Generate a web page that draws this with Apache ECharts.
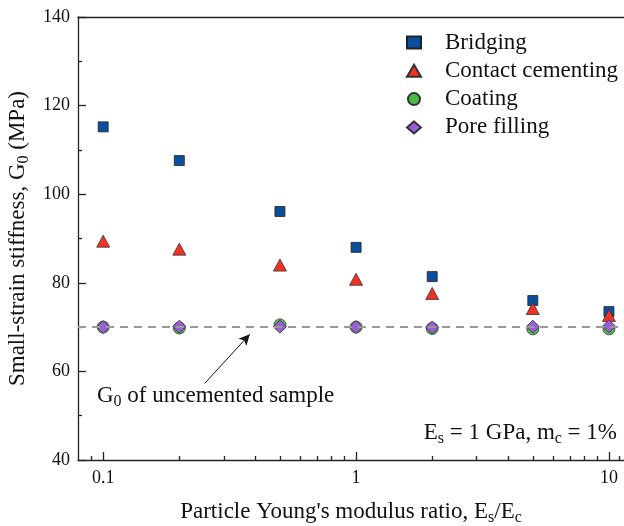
<!DOCTYPE html>
<html>
<head>
<meta charset="utf-8">
<script src="https://cdn.jsdelivr.net/npm/echarts@6/dist/echarts.min.js"></script>
<style>
html,body{margin:0;padding:0;background:#fff;}
#chart{width:624px;height:526px;}
</style>
</head>
<body>
<div id="chart"></div>
<script>
// ---- data ----
var ratios = [0.1, 0.2, 0.5, 1, 2, 5, 10];
var bridging = [115.2, 107.6, 96.1, 88.0, 81.4, 76.0, 73.5];
var contactCementing = [89.4, 87.6, 84.0, 80.8, 77.6, 74.2, 72.6];
var coating = [70.0, 69.8, 70.5, 70.0, 69.7, 69.6, 69.6];
var poreFilling = [70.0, 70.1, 70.1, 70.0, 69.9, 70.1, 70.2];
var uncementedG0 = 70;
var xMajorTicks = [0.1, 1, 10];
var xMinorTicks = [0.09, 0.2, 0.3, 0.4, 0.5, 0.6, 0.7, 0.8, 0.9, 2, 3, 4, 5, 6, 7, 8, 9, 11];
var yTicks = {min: 40, max: 140, interval: 20};
var arrowFrom = [0.252, 57.3];
var arrowTo = [0.38, 68.4];

function pairs(ys) { return ratios.map(function (x, i) { return [x, ys[i]]; }); }

var FONT = '"Liberation Serif", "Times New Roman", serif';
var TXT = '#111';
var subStyle = { fontSize: 16, fontFamily: FONT, color: TXT, verticalAlign: 'bottom', lineHeight: 12 };
var mainRich = { fontSize: 23, fontFamily: FONT, color: TXT, lineHeight: 28 };

var chart = echarts.init(document.getElementById('chart'), null, { renderer: 'canvas' });
var XMIN = 0.0795, XMAX = 11.47;
var axisLineStyle = { color: '#222', width: 1.3 };

var option = {
  animation: false,
  backgroundColor: '#fff',
  grid: { left: 78, right: 0, top: 17, bottom: 66, containLabel: false, outerBoundsMode: 'none' },
  legend: {
    orient: 'vertical',
    left: 406, top: 30.5,
    padding: 0,
    itemWidth: 14, itemHeight: 12,
    itemGap: 4.3,
    symbolKeepAspect: true,
    textStyle: { fontFamily: FONT, fontSize: 23, color: TXT, lineHeight: 24, padding: [0, 0, 0, 19] },
    data: ['Bridging', 'Contact cementing', 'Coating', 'Pore filling']
  },
  xAxis: [
    {
      type: 'log', logBase: 10, min: XMIN, max: XMAX, position: 'bottom',
      axisLine: { show: true, lineStyle: axisLineStyle },
      axisTick: { show: true, inside: true, length: 8, customValues: xMajorTicks, lineStyle: axisLineStyle },
      axisLabel: { customValues: xMajorTicks, fontFamily: FONT, fontSize: 18, color: TXT, margin: 9,
        formatter: function (v) { return String(+(+v).toPrecision(3)); } },
      splitLine: { show: false },
      minorTick: { show: false },
      name: 'Particle Young\'s modulus ratio, {m|E}{s|s}{m|/E}{s|c}',
      nameLocation: 'middle', nameGap: 38,
      nameTextStyle: { rich: { m: mainRich, s: subStyle }, fontFamily: FONT, fontSize: 23, color: TXT }
    },
    {
      type: 'log', logBase: 10, min: XMIN, max: XMAX, position: 'bottom',
      axisLine: { show: false },
      axisTick: { show: true, inside: true, length: 4, customValues: xMinorTicks, lineStyle: axisLineStyle },
      axisLabel: { show: false },
      splitLine: { show: false }
    },
    {
      type: 'log', logBase: 10, min: XMIN, max: XMAX, position: 'top',
      axisLine: { show: true, lineStyle: axisLineStyle },
      axisTick: { show: false }, axisLabel: { show: false }, splitLine: { show: false }
    }
  ],
  yAxis: {
    type: 'value', min: yTicks.min, max: yTicks.max, interval: yTicks.interval,
    axisLine: { show: true, lineStyle: axisLineStyle },
    axisTick: { show: true, inside: true, length: 8, lineStyle: axisLineStyle },
    minorTick: { show: true, splitNumber: 2, length: 4, lineStyle: axisLineStyle },
    axisLabel: { fontFamily: FONT, fontSize: 18, color: TXT, margin: 8 },
    splitLine: { show: false },
    name: '{m|Small-strain stiffness, G}{s|0}{m| (MPa)}',
    nameLocation: 'middle', nameGap: 44,
    nameTextStyle: { rich: { m: mainRich, s: subStyle }, fontFamily: FONT, fontSize: 23, color: TXT }
  },
  series: [
    {
      type: 'line', name: 'ref', data: [], z: 1, silent: true,
      markLine: {
        silent: true, animation: false,
        label: { show: false },
        emphasis: { disabled: true },
        data: [
          [{ xAxis: XMIN, yAxis: uncementedG0, symbol: 'none' }, { xAxis: XMAX, yAxis: uncementedG0, symbol: 'none',
            lineStyle: { type: [8, 6], color: '#9a9a9a', width: 2 } }],
          [{ coord: arrowFrom, symbol: 'none' }, { coord: arrowTo, symbol: 'arrow', symbolSize: [8, 11],
            lineStyle: { type: 'solid', color: '#111', width: 1 } }]
        ],
        lineStyle: { type: [8, 6], color: '#9a9a9a', width: 2 }
      }
    },
    {
      type: 'scatter', name: 'Bridging', data: pairs(bridging), z: 3,
      symbol: 'rect', symbolSize: 10, symbolKeepAspect: true,
      itemStyle: { color: '#0b4e9e', borderColor: '#222', borderWidth: 0.8, opacity: 1 }
    },
    {
      type: 'scatter', name: 'Contact cementing', data: pairs(contactCementing), z: 3,
      symbol: 'triangle', symbolSize: [13, 12], symbolKeepAspect: true,
      itemStyle: { color: '#ef3224', borderColor: '#333', borderWidth: 0.8, opacity: 1 }
    },
    {
      type: 'scatter', name: 'Coating', data: pairs(coating), z: 3,
      symbol: 'circle', symbolSize: 12, symbolKeepAspect: true,
      itemStyle: { color: '#4cbb46', borderColor: '#333', borderWidth: 0.8, opacity: 1 }
    },
    {
      type: 'scatter', name: 'Pore filling', data: pairs(poreFilling), z: 3,
      symbol: 'diamond', symbolSize: 13, symbolKeepAspect: true,
      itemStyle: { color: '#9a5ed8', borderColor: '#333', borderWidth: 0.8, opacity: 1 }
    }
  ],
  graphic: [
    {
      type: 'text', x: 97, y: 396, z: 10,
      style: {
        text: '{m|G}{s|0}{m| of uncemented sample}',
        rich: { m: mainRich, s: subStyle },
        align: 'left', verticalAlign: 'middle', fill: TXT
      }
    },
    {
      type: 'text', x: 617, y: 433, z: 10,
      style: {
        text: '{m|E}{s|s}{m| = 1 GPa, m}{s|c}{m| = 1%}',
        rich: { m: mainRich, s: subStyle },
        align: 'right', verticalAlign: 'middle', fill: TXT
      }
    }
  ]
};
chart.setOption(option);
</script>
</body>
</html>
